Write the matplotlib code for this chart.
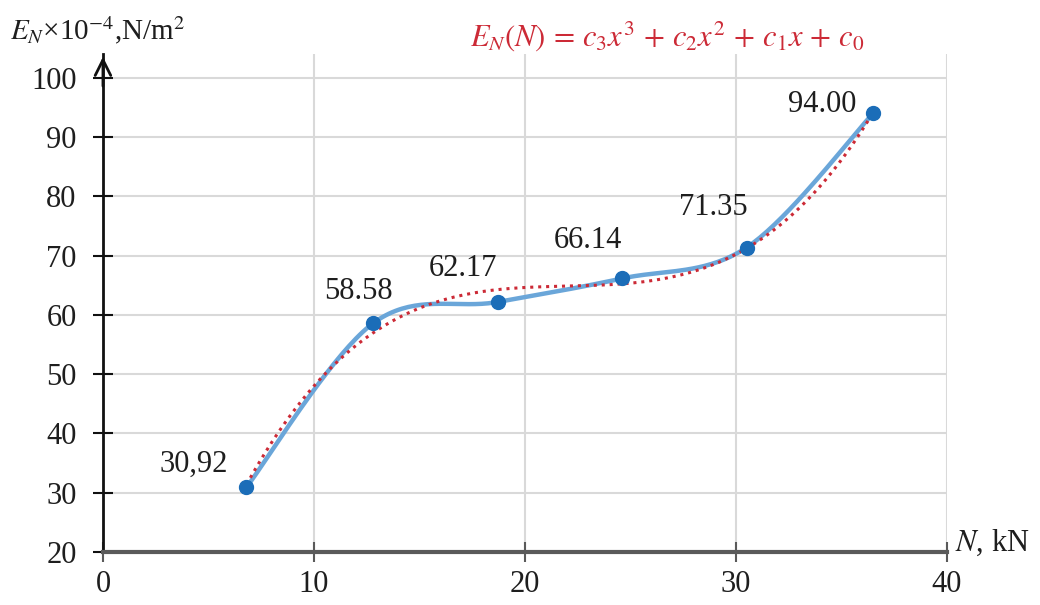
import numpy as np
from matplotlib import pyplot as plt

plt.rcParams['font.family'] = ['Liberation Serif', 'DejaVu Serif']
plt.rcParams['mathtext.fontset'] = 'stix'

# load N, kN and modulus E_N x 10^-4, N/m^2
loads = [6.8, 12.8, 18.7, 24.6, 30.5, 36.5]
modulus = [30.92, 58.58, 62.17, 66.14, 71.35, 94.00]
point_labels = ['30,92', '58.58', '62.17', '66.14', '71.35', '94.00']
label_offsets = [(-53, 23), (-15, 32), (-35, 34), (-34, 38), (-33, 40), (-51, 9)]


def catmull_rom(xs, ys, steps=40):
    # smoothed line through the points, like a spreadsheet "smooth line"
    px = [xs[0]] + list(xs) + [xs[-1]]
    py = [ys[0]] + list(ys) + [ys[-1]]
    out_x, out_y = [], []
    t = np.linspace(0, 1, steps)
    for i in range(1, len(px) - 2):
        for p, out in ((px, out_x), (py, out_y)):
            p0, p1, p2, p3 = p[i - 1], p[i], p[i + 1], p[i + 2]
            out.extend(0.5 * (2 * p1 + (-p0 + p2) * t
                              + (2 * p0 - 5 * p1 + 4 * p2 - p3) * t ** 2
                              + (-p0 + 3 * p1 - 3 * p2 + p3) * t ** 3))
    return out_x, out_y


fig = plt.figure(figsize=(10.4, 6.05), dpi=100)
ax = fig.add_axes([0.099, 0.0876, 0.8116, 0.8231])

sx, sy = catmull_rom(loads, modulus)
ax.plot(sx, sy, color='#6aa6d9', lw=3.2, zorder=3)

coef = np.polyfit(loads, modulus, 3)
fx = np.linspace(loads[0], loads[-1], 200)
ax.plot(fx, np.polyval(coef, fx), color='#cc2a36', lw=2.2, linestyle=(0, (1, 1.6)), zorder=4)

ax.plot(loads, modulus, 'o', color='#1b6db8', markersize=10, zorder=5)

for lab, xv, yv, off in zip(point_labels, loads, modulus, label_offsets):
    ax.annotate(lab, xy=(xv, yv), xytext=off, textcoords='offset pixels',
                ha='center', va='center', fontsize=22, color='#1e1e1e')

ax.set_xlim(0, 40)
ax.set_ylim(20, 104)
ax.set_xticks([0, 10, 20, 30, 40])
ax.set_yticks(range(20, 101, 10))
ax.grid(True, color='#d9d9d9', lw=1.5)
ax.set_axisbelow(True)

for s in ['top', 'right']:
    ax.spines[s].set_visible(False)
ax.spines['left'].set_linewidth(2)
ax.spines['left'].set_color('#111111')
ax.spines['bottom'].set_linewidth(3)
ax.spines['bottom'].set_color('#5a5a5a')

ax.tick_params(axis='y', direction='inout', length=14, width=1.5, pad=12,
               labelsize=22, color='#111111', labelcolor='#1e1e1e')
ax.tick_params(axis='x', direction='inout', length=14, width=1.5, pad=6,
               labelsize=22, color='#5a5a5a', labelcolor='#1e1e1e')

ax.annotate('', xy=(0, 1.0), xytext=(0, 0.93), xycoords='axes fraction',
            arrowprops=dict(arrowstyle='->', lw=2, color='#111111', mutation_scale=28))

fig.text(0.01, 0.95, r'$E_{N}$×10$^{-4}$,N/m$^{2}$', fontsize=21, color='#1e1e1e',
         ha='left', va='center')
fig.text(0.452, 0.94, r'$E_N(N)\,=\,c_3x^3\,+\,c_2x^2\,+\,c_1x\,+\,c_0$', fontsize=22,
         color='#cc2a36', ha='left', va='center')
fig.text(0.918, 0.102, r'$N$, kN', fontsize=22, color='#1e1e1e', ha='left', va='center')

fig.savefig('out.png')
